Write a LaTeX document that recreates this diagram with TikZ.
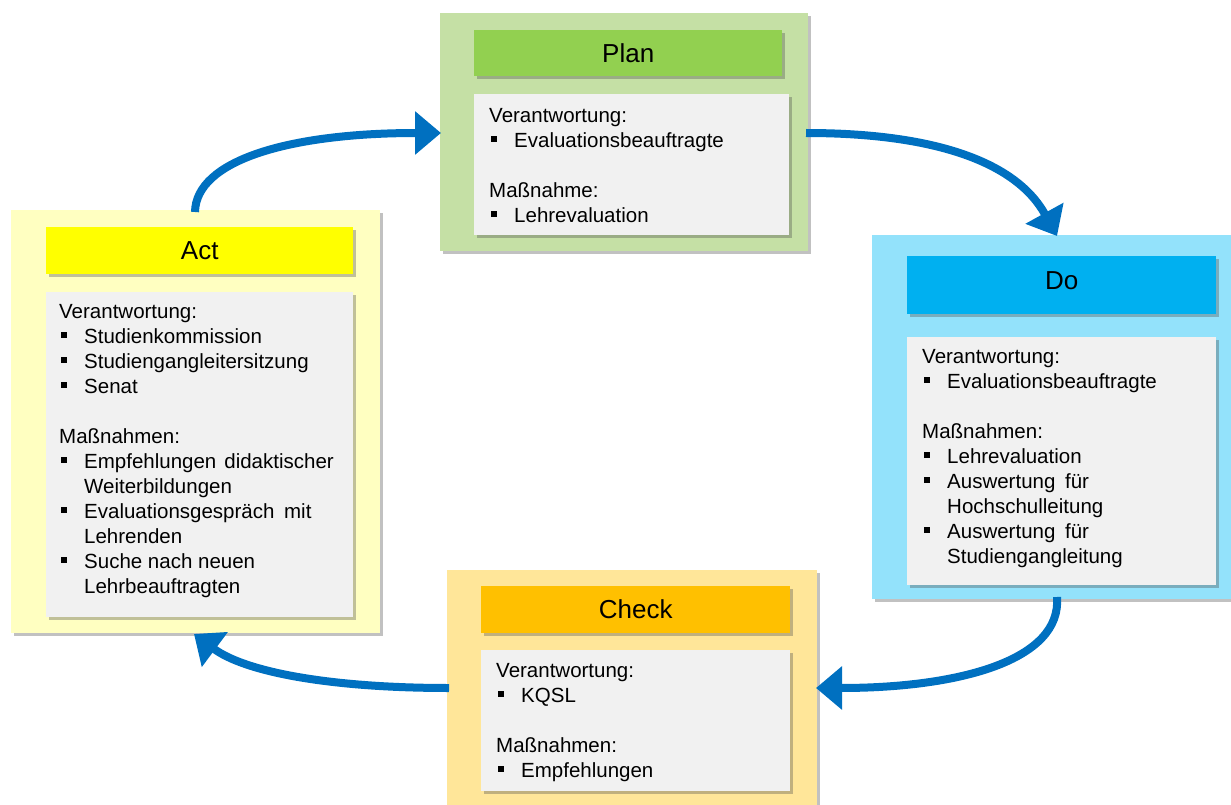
\documentclass[tikz,border=0pt]{standalone}
\usepackage{fontspec}
\setmainfont{Liberation Sans}
\usetikzlibrary{arrows.meta,shadows}
\definecolor{planout}{HTML}{C5E0A5}
\definecolor{planhead}{HTML}{92D050}
\definecolor{actout}{HTML}{FFFFC1}
\definecolor{acthead}{HTML}{FFFF00}
\definecolor{doout}{HTML}{93E2FB}
\definecolor{dohead}{HTML}{00B0F0}
\definecolor{checkout}{HTML}{FFE699}
\definecolor{checkhead}{HTML}{FFC000}
\definecolor{contentbg}{HTML}{F1F1F1}
\definecolor{arrowblue}{HTML}{0070C0}
\newcommand{\bul}{\makebox[25pt][l]{\hspace{2pt}\rule[5pt]{6pt}{6pt}}}
\newcommand{\ind}{\hspace*{25pt}}
\tikzset{
  box/.style={rectangle, inner sep=0pt, anchor=north west,
    drop shadow={shadow xshift=3pt, shadow yshift=-3pt, opacity=0.35, fill=black!70}},
  headtext/.style={font=\fontsize{26}{30}\selectfont, text=black},
  bodytext/.style={font=\fontsize{20.5}{25}\selectfont, align=left, inner sep=0pt, anchor=north west, text=black},
  cycle/.style={draw=arrowblue, line width=8pt, -{Triangle[length=26pt,width=42pt]}}
}
\begin{document}
\begin{tikzpicture}[x=1pt,y=-1pt]
\useasboundingbox (0,0) rectangle (1231,805);
% outer boxes
\node[box, fill=planout, minimum width=368pt, minimum height=238pt] (planbox) at (440,13) {};
\node[box, fill=actout, minimum width=369pt, minimum height=423pt] (actbox) at (11,210) {};
\node[box, fill=doout, minimum width=362pt, minimum height=364pt] (dobox) at (872,235) {};
\node[box, fill=checkout, minimum width=370pt, minimum height=250pt] (checkbox) at (447,570) {};
% headers
\node[box, fill=planhead, minimum width=308pt, minimum height=46pt] (planhead) at (474,30) {};
\node[headtext] (plantitle) at (planhead.center) {Plan};
\node[box, fill=acthead, minimum width=307pt, minimum height=47pt] (acthead) at (46,227) {};
\node[headtext] (acttitle) at (acthead.center) {Act};
\node[box, fill=dohead, minimum width=309pt, minimum height=58pt] (dohead) at (907,256) {};
\node[headtext, yshift=5pt] (dotitle) at (dohead.center) {Do};
\node[box, fill=checkhead, minimum width=309pt, minimum height=47pt] (checkhead) at (481,586) {};
\node[headtext] (checktitle) at (checkhead.center) {Check};
% content boxes
\node[box, fill=contentbg, minimum width=315pt, minimum height=141pt] (plancont) at (474,94) {};
\node[box, fill=contentbg, minimum width=307pt, minimum height=325pt] (actcont) at (46,292) {};
\node[box, fill=contentbg, minimum width=309pt, minimum height=248pt] (docont) at (907,337) {};
\node[box, fill=contentbg, minimum width=309pt, minimum height=141pt] (checkcont) at (481,650) {};
% texts
\node[bodytext] (plantext) at (489,107) {\rule{0pt}{15pt}Verantwortung:\\
\bul Evaluationsbeauftragte\\[25pt]
Maßnahme:\\
\bul Lehrevaluation};
\node[bodytext] (acttext) at (59,303) {\rule{0pt}{15pt}Verantwortung:\\
\bul Studienkommission\\
\bul Studiengangleitersitzung\\
\bul Senat\\[25pt]
Maßnahmen:\\
\bul Empfehlungen\hspace{8pt}didaktischer\\
\ind Weiterbildungen\\
\bul Evaluationsgespräch\hspace{4pt} mit\\
\ind Lehrenden\\
\bul Suche nach neuen\\
\ind Lehrbeauftragten};
\node[bodytext] (dotext) at (922,348) {\rule{0pt}{15pt}Verantwortung:\\
\bul Evaluationsbeauftragte\\[25pt]
Maßnahmen:\\
\bul Lehrevaluation\\
\bul Auswertung\hspace{4pt} für\\
\ind Hochschulleitung\\
\bul Auswertung\hspace{4pt} für\\
\ind Studiengangleitung};
\node[bodytext] (checktext) at (496,662) {\rule{0pt}{15pt}Verantwortung:\\
\bul KQSL\\[25pt]
Maßnahmen:\\
\bul Empfehlungen};
% cycle arrows
\coordinate (a1s) at (195,212);
\coordinate (a1e) at (441,133);
\coordinate (a2s) at (806,133);
\coordinate (a2e) at (1057,236);
\coordinate (a3s) at (1057,597);
\coordinate (a3e) at (816,688);
\coordinate (a4s) at (449,688);
\coordinate (a4e) at (194,634);
\draw[cycle] (a1s) .. controls (196,160) and (290,133) .. (a1e);
\draw[cycle] (a2s) .. controls (930,133) and (1015,160) .. (a2e);
\draw[cycle] (a3s) .. controls (1062,660) and (960,688) .. (a3e);
\draw[cycle] (a4s) .. controls (330,688) and (245,672) .. (a4e);
\end{tikzpicture}
\end{document}
